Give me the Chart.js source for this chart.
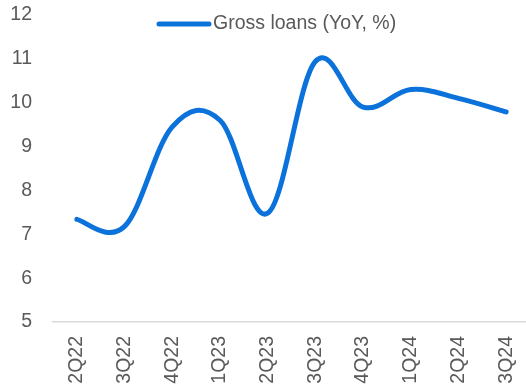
<!DOCTYPE html>
<html>
<head>
<meta charset="utf-8">
<script src="https://cdn.jsdelivr.net/npm/chart.js@4.4.1/dist/chart.umd.min.js"></script>
<style>
    html, body { margin: 0; padding: 0; background: #fff; overflow: hidden; }
    #wrap { width: 530px; height: 390px; position: relative; }
</style>
</head>
<body>
<div id="wrap"><canvas id="loans-chart"></canvas></div>
<script>
var quarters = ['2Q22', '3Q22', '4Q22', '1Q23', '2Q23', '3Q23', '4Q23', '1Q24', '2Q24', '3Q24'];
var grossLoans = [7.34, 7.18, 9.45, 9.6, 7.48, 10.94, 9.9, 10.3, 10.1, 9.79];
var yTicks = [5, 6, 7, 8, 9, 10, 11, 12];

var lineBlue = '#0a72da';
var textGrey = '#595959';
var fontFamily = '"Liberation Sans", Arial, sans-serif';

// spreadsheet-style smoothing: catmull-rom like control points
// instead of chart.js' distance weighted ones
var catmullRom = {
    id: 'catmullRom',
    beforeDatasetsDraw: function (chart) {
        let meta = chart.getDatasetMeta(0);
        let pts = meta.data;
        let n = pts.length;
        let k = 0.18;
        for (let i = 0; i < n; i++) {
            let prev = pts[Math.max(i - 1, 0)];
            let next = pts[Math.min(i + 1, n - 1)];
            let dx = (next.x - prev.x) * k;
            let dy = (next.y - prev.y) * k;
            pts[i].cp1x = pts[i].x - dx;
            pts[i].cp1y = pts[i].y - dy;
            pts[i].cp2x = pts[i].x + dx;
            pts[i].cp2y = pts[i].y + dy;
        }
        meta.dataset._pointsUpdated = true;
    }
};

// legend sits inside the plot area, so draw it by hand
var inlineLegend = {
    id: 'inlineLegend',
    afterDraw: function (chart) {
        let ctx = chart.ctx;
        let ds = chart.data.datasets[0];
        let x0 = chart.chartArea.left + 106;
        let y = chart.chartArea.top + 9;
        ctx.save();
        ctx.strokeStyle = ds.borderColor;
        ctx.lineWidth = 5;
        ctx.lineCap = 'round';
        ctx.beginPath();
        ctx.moveTo(x0, y);
        ctx.lineTo(x0 + 50, y);
        ctx.stroke();
        ctx.fillStyle = textGrey;
        ctx.font = '19.5px ' + fontFamily;
        ctx.textBaseline = 'middle';
        ctx.fillText(ds.label, x0 + 54, y);
        ctx.restore();
    }
};

var ctx = document.getElementById('loans-chart');
var loansChart = new Chart(ctx, {
    type: 'line',
    data: {
        labels: quarters,
        datasets: [{
            label: 'Gross loans (YoY, %)',
            data: grossLoans,
            borderColor: lineBlue,
            backgroundColor: lineBlue,
            borderWidth: 5,
            borderCapStyle: 'round',
            borderJoinStyle: 'round',
            tension: 0.4,
            pointRadius: 0,
            fill: false
        }]
    },
    options: {
        responsive: true,
        maintainAspectRatio: false,
        animation: false,
        layout: {
            padding: { left: 10, top: 15, right: 0, bottom: 0 }
        },
        plugins: {
            legend: { display: false },
            tooltip: { enabled: false }
        },
        scales: {
            x: {
                offset: true,
                grid: { display: false, drawTicks: false },
                border: { display: true, color: '#d9d9d9', width: 1.5 },
                ticks: {
                    color: textGrey,
                    font: { family: fontFamily, size: 19.5 },
                    minRotation: 90,
                    maxRotation: 90,
                    padding: 14
                },
                afterFit: function (axis) {
                    axis.height = 68;
                    axis.paddingLeft = 0;
                    axis.paddingRight = 0;
                }
            },
            y: {
                min: 5,
                max: 12,
                afterBuildTicks: function (axis) {
                    axis.ticks = yTicks.map(function (v) { return { value: v }; });
                },
                grid: { display: false, drawTicks: false },
                border: { display: false },
                ticks: {
                    color: textGrey,
                    font: { family: fontFamily, size: 19.5 },
                    padding: 21
                },
                afterFit: function (axis) {
                    axis.width = 43;
                    axis.paddingTop = 0;
                    axis.paddingBottom = 0;
                }
            }
        }
    },
    plugins: [catmullRom, inlineLegend]
});
</script>
</body>
</html>
